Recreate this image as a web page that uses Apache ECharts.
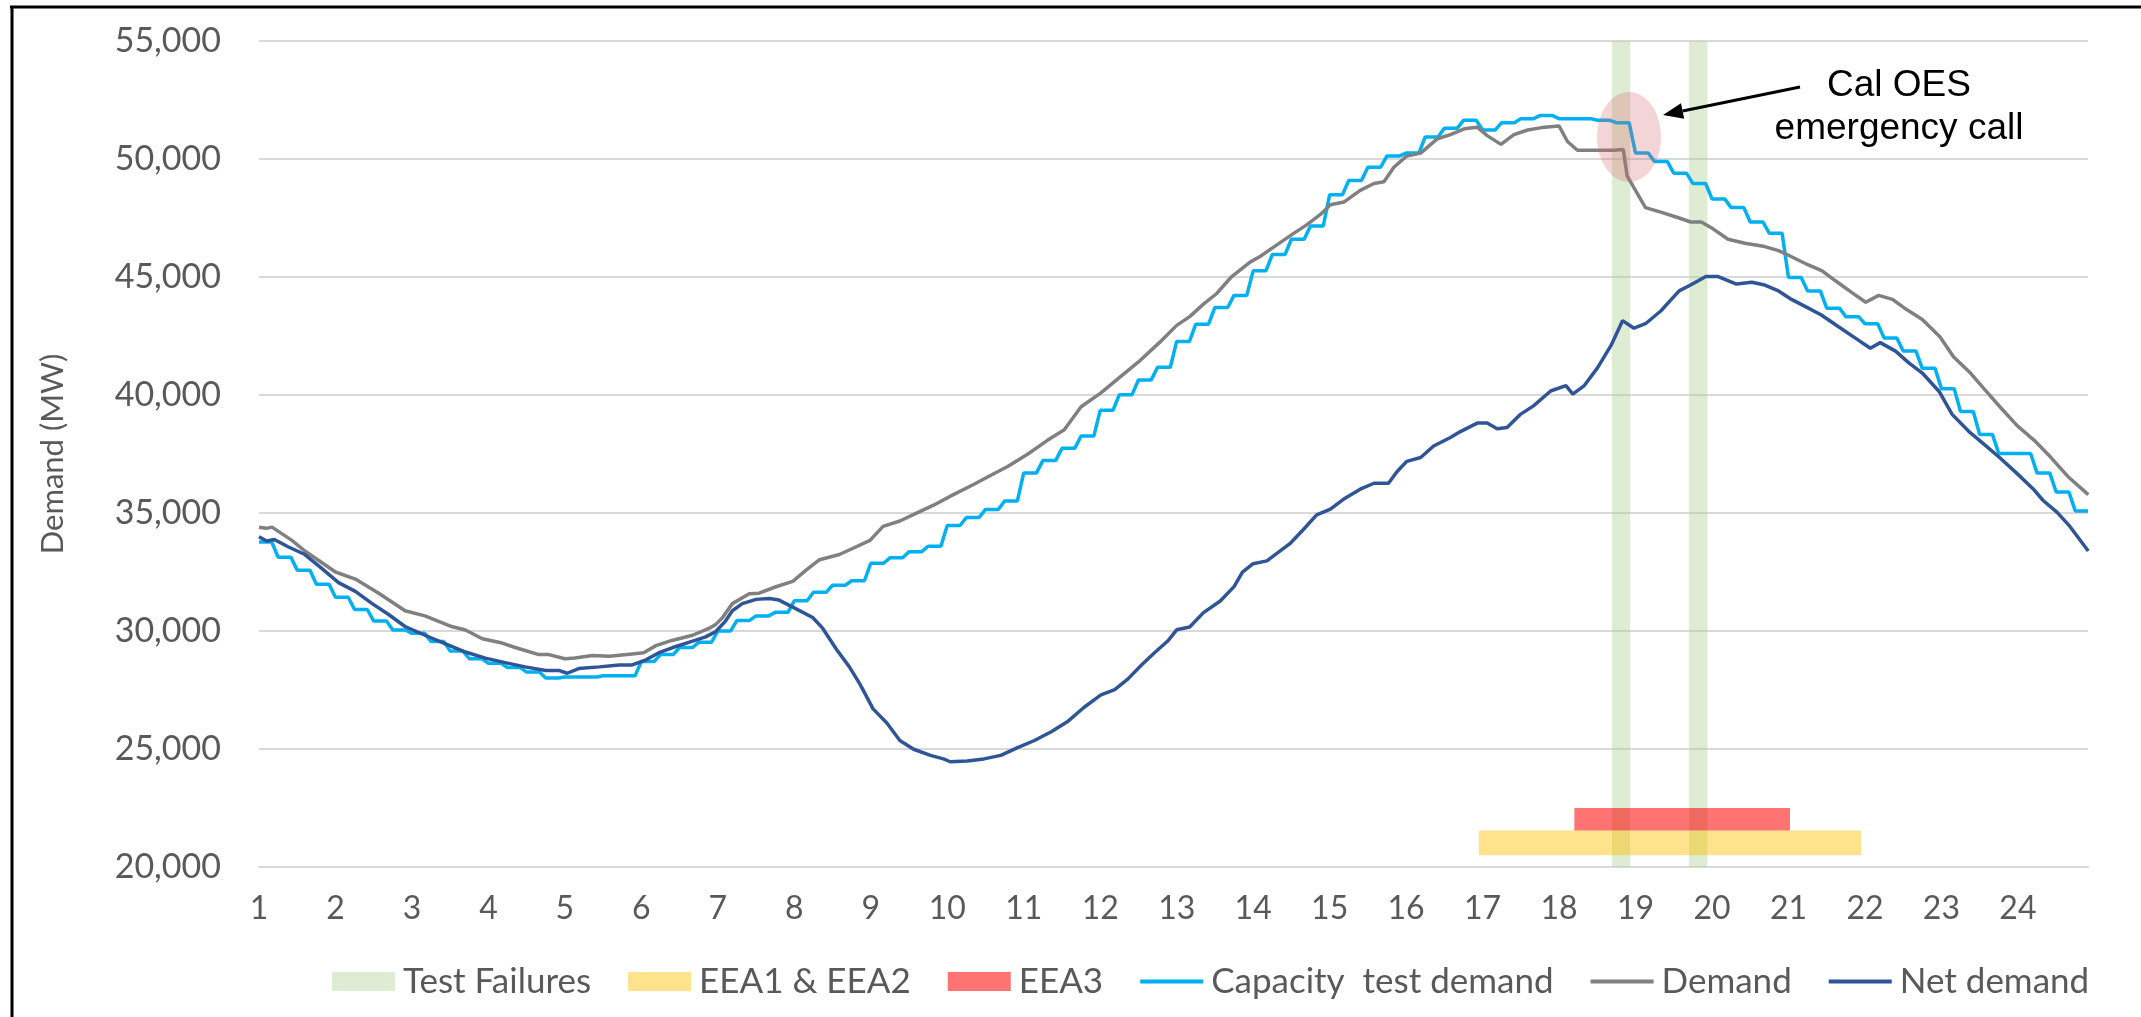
<!DOCTYPE html>
<html><head><meta charset="utf-8">
<script src="https://cdn.jsdelivr.net/npm/echarts@6/dist/echarts.min.js"></script>
<style>html,body{margin:0;padding:0;background:#fff;}#c{width:2141px;height:1017px;}</style>
</head><body><div id="c"></div>
<script>
// ---- data (hours on x, MW on y) ----
const hourLabels = ['1','2','3','4','5','6','7','8','9','10','11','12','13','14','15','16','17','18','19','20','21','22','23','24'];
const yTicks = [20000, 25000, 30000, 35000, 40000, 45000, 50000, 55000];
// capacity test demand: one value per 15-minute block starting at hour 1
const capacityQuarterHour = [
 33770,33130,32575,31980,31430,30910,30420,30045,
 29900,29550,29150,28825,28630,28450,28260,28010,
 28050,28050,28100,28100,28710,29000,29300,29520,
 30000,30450,30640,30790,31280,31640,31940,32130,
 32870,33100,33360,33590,34470,34810,35150,35510,
 36700,37220,37740,38260,39350,40015,40640,41175,
 42270,43000,43710,44220,45260,45950,46600,47160,
 48480,49090,49650,50130,50250,50935,51300,51640,
 51230,51540,51710,51840,51710,51710,51640,51540,
 50250,49890,49400,48960,48310,47940,47330,46850,
 44980,44410,43680,43320,43020,42420,41860,41130,
 40270,39300,38330,37520,37520,36700,35890,35090];
const demand = [
 [1.0,34400],[1.1,34350],[1.17,34400],[1.43,33840],[1.6,33390],[2.0,32500],[2.26,32200],[2.56,31610],
 [2.91,30860],[3.17,30640],[3.52,30190],[3.7,30045],[3.92,29670],[4.18,29490],[4.35,29300],[4.66,29000],
 [4.79,29000],[5.0,28825],[5.13,28855],[5.36,28960],[5.58,28930],[5.88,29030],[6.03,29080],[6.19,29380],
 [6.4,29600],[6.67,29820],[6.89,30120],[6.97,30270],[7.06,30565],[7.19,31160],[7.41,31580],[7.54,31600],
 [7.76,31875],[7.98,32100],[8.15,32570],[8.33,33020],[8.59,33240],[8.81,33570],[8.99,33840],[9.16,34435],
 [9.38,34660],[9.64,35060],[9.82,35330],[10.08,35780],[10.35,36220],[10.57,36600],[10.79,36970],[11.05,37490],
 [11.31,38080],[11.53,38530],[11.75,39500],[12.01,40090],[12.23,40680],[12.5,41400],[12.78,42240],[13.0,42950],
 [13.17,43320],[13.35,43850],[13.52,44290],[13.72,45020],[13.96,45630],[14.09,45870],[14.31,46360],[14.53,46850],
 [14.7,47210],[14.88,47650],[15.01,48060],[15.19,48180],[15.4,48670],[15.58,48960],[15.71,49040],[15.84,49650],
 [16.01,50130],[16.19,50250],[16.41,50860],[16.58,51030],[16.76,51280],[16.93,51350],[17.06,50990],[17.24,50620],
 [17.41,51030],[17.59,51230],[17.81,51350],[18.0,51400],[18.11,50740],[18.24,50370],[18.45,50370],[18.72,50370],
 [18.84,50400],[18.89,49280],[19.13,47940],[19.33,47750],[19.57,47500],[19.72,47330],[19.86,47330],[19.99,47090],
 [20.21,46600],[20.43,46430],[20.69,46290],[20.87,46120],[21.0,45920],[21.26,45510],[21.44,45260],[21.61,44850],
 [21.83,44340],[22.01,43930],[22.18,44220],[22.36,44050],[22.54,43630],[22.75,43200],[22.98,42470],[23.16,41610],
 [23.38,40930],[23.55,40290],[23.77,39480],[23.99,38700],[24.21,38090],[24.43,37360],[24.65,36560],[24.92,35780]];
const netDemand = [
 [1.0,33990],[1.1,33810],[1.2,33880],[1.38,33570],[1.6,33240],[1.82,32650],[2.04,32050],[2.26,31680],
 [2.48,31160],[2.69,30710],[2.91,30190],[3.17,29820],[3.44,29450],[3.7,29110],[3.96,28850],[4.22,28660],
 [4.48,28480],[4.75,28330],[4.92,28330],[5.03,28210],[5.18,28410],[5.45,28480],[5.71,28560],[5.88,28560],
 [6.06,28780],[6.23,29080],[6.41,29300],[6.62,29520],[6.84,29750],[6.97,29970],[7.1,30420],[7.19,30860],
 [7.32,31160],[7.5,31340],[7.67,31380],[7.8,31310],[7.98,31010],[8.24,30570],[8.37,30120],[8.55,29230],
 [8.72,28480],[8.86,27740],[9.03,26700],[9.21,26100],[9.38,25360],[9.56,24990],[9.78,24730],[9.95,24580],
 [10.04,24460],[10.26,24490],[10.48,24580],[10.7,24730],[10.92,25060],[11.14,25360],[11.36,25730],[11.58,26180],
 [11.79,26770],[12.01,27290],[12.19,27520],[12.36,27960],[12.54,28560],[12.71,29080],[12.89,29600],[13.0,30050],
 [13.17,30170],[13.35,30780],[13.57,31270],[13.75,31880],[13.86,32490],[14.0,32850],[14.18,32970],[14.31,33290],
 [14.48,33700],[14.66,34310],[14.83,34920],[15.01,35160],[15.18,35580],[15.4,36010],[15.58,36260],[15.77,36260],
 [15.88,36750],[16.01,37190],[16.19,37350],[16.36,37840],[16.58,38200],[16.71,38450],[16.93,38810],[17.06,38810],
 [17.19,38570],[17.32,38620],[17.5,39190],[17.67,39550],[17.89,40170],[18.09,40400],[18.18,40040],[18.33,40400],
 [18.5,41140],[18.68,42100],[18.83,43150],[18.98,42830],[19.13,43020],[19.33,43560],[19.57,44410],[19.72,44660],
 [19.92,45020],[20.08,45020],[20.32,44700],[20.52,44780],[20.69,44660],[20.87,44410],[21.04,44050],[21.26,43680],
 [21.43,43390],[21.65,42900],[21.87,42420],[22.07,41980],[22.2,42220],[22.4,41860],[22.57,41370],[22.75,40930],
 [22.97,40150],[23.14,39180],[23.36,38450],[23.54,37960],[23.76,37350],[23.98,36700],[24.2,36020],[24.33,35530],
 [24.51,35040],[24.68,34430],[24.92,33390]];
// shaded periods: [startHour, endHour, bottomMW, topMW]
const testFailures = [[18.69,18.93,20000,55000],[19.70,19.94,20000,55000]];
const eea12 = [[16.95,21.95,20500,21550]];
const eea3 = [[18.20,21.02,21550,22500]];

// ---- build ----
const FIRST_HOUR = 1, STEP = 1/12; // 5-minute slots
const capacityPoints = [];
capacityQuarterHour.forEach((v, k) => {
  const t = FIRST_HOUR + k * 0.25;
  for (let j = 0; j < 3; j++) capacityPoints.push([t + j * STEP, v]);
});
const X_MAX = FIRST_HOUR + 287 * STEP;

function rectItem(params, api) {
  const p0 = api.coord([api.value(0), api.value(3)]);
  const p1 = api.coord([api.value(1), api.value(2)]);
  return {type: 'rect', shape: {x: p0[0], y: p0[1], width: p1[0] - p0[0], height: p1[1] - p0[1]},
          style: {fill: api.visual('color')}};
}
const GRAY = '#595959';
const LINE_ICON = 'path://M0,0h64v4h-64z';
const chart = echarts.init(document.getElementById('c'), null, {renderer: 'canvas'});
const tip = [1663, 115], tail = [1800, 87];
const dx = tip[0]-tail[0], dy = tip[1]-tail[1], L = Math.hypot(dx, dy), ux = dx/L, uy = dy/L;
const hl = 20, hw = 8, bx = tip[0]-ux*hl, by = tip[1]-uy*hl;
chart.setOption({
  animation: false,
  textStyle: {fontFamily: 'Lato'},
  grid: {left: 259, right: 53, top: 41, bottom: 150},
  xAxis: {
    type: 'value', min: FIRST_HOUR, max: X_MAX, interval: 1,
    axisLine: {show: true, lineStyle: {color: '#D9D9D9', width: 2}},
    axisTick: {show: false}, splitLine: {show: false},
    axisLabel: {color: GRAY, fontSize: 32, margin: 26,
      formatter: v => Number.isInteger(v) ? hourLabels[v - 1] : ''}
  },
  yAxis: {
    type: 'value', min: yTicks[0], max: yTicks[yTicks.length - 1], interval: 5000,
    name: 'Demand (MW)', nameLocation: 'middle', nameGap: 191,
    nameTextStyle: {color: GRAY, fontSize: 31},
    axisLine: {show: false}, axisTick: {show: false},
    splitLine: {lineStyle: {color: '#D9D9D9', width: 2}},
    axisLabel: {color: GRAY, fontSize: 34, margin: 38,
      formatter: v => v.toLocaleString('en-US')}
  },
  legend: {
    left: 327, top: 959, itemWidth: 63, itemHeight: 19, itemGap: 37,
    textStyle: {color: GRAY, fontSize: 35, padding: [0, 0, 0, 3]},
    data: [{name: 'Test Failures', icon: 'rect'}, {name: 'EEA1 & EEA2', icon: 'rect'}, {name: 'EEA3', icon: 'rect'},
           {name: 'Capacity  test demand', icon: LINE_ICON}, {name: 'Demand', icon: LINE_ICON},
           {name: 'Net demand', icon: LINE_ICON}]
  },
  series: [
    {name: 'Test Failures', type: 'custom', renderItem: rectItem, data: testFailures,
     encode: {x: [0, 1], y: [2, 3]}, itemStyle: {color: 'rgba(169,208,142,0.4)'}},
    {name: 'EEA1 & EEA2', type: 'custom', renderItem: rectItem, data: eea12,
     encode: {x: [0, 1], y: [2, 3]}, itemStyle: {color: 'rgba(255,192,0,0.45)'}},
    {name: 'EEA3', type: 'custom', renderItem: rectItem, data: eea3,
     encode: {x: [0, 1], y: [2, 3]}, itemStyle: {color: 'rgba(255,0,0,0.55)'}},
    {name: 'Capacity  test demand', type: 'line', data: capacityPoints, symbol: 'none',
     lineStyle: {color: '#00B0F0', width: 3.5}, itemStyle: {color: '#00B0F0'}},
    {name: 'Demand', type: 'line', data: demand, symbol: 'none',
     lineStyle: {color: '#808080', width: 3.5}, itemStyle: {color: '#808080'}},
    {name: 'Net demand', type: 'line', data: netDemand, symbol: 'none',
     lineStyle: {color: '#2F5597', width: 3.5}, itemStyle: {color: '#2F5597'}}
  ],
  graphic: [
    {type: 'ellipse', z: 100, shape: {cx: 1629, cy: 137, rx: 32, ry: 45}, style: {fill: 'rgba(215,105,110,0.28)'}},
    {type: 'line', z: 100, shape: {x1: tail[0], y1: tail[1], x2: bx, y2: by}, style: {stroke: '#000', lineWidth: 3}},
    {type: 'polygon', z: 100, shape: {points: [tip, [bx - uy*hw, by + ux*hw], [bx + uy*hw, by - ux*hw]]}, style: {fill: '#000'}},
    {type: 'text', z: 100, style: {text: 'Cal OES', x: 1899, y: 86, font: '37px "Liberation Sans"', fill: '#000', textAlign: 'center', textVerticalAlign: 'middle'}},
    {type: 'text', z: 100, style: {text: 'emergency call', x: 1899, y: 129, font: '37px "Liberation Sans"', fill: '#000', textAlign: 'center', textVerticalAlign: 'middle'}},
    {type: 'line', z: 100, shape: {x1: 10, y1: 7, x2: 2141, y2: 7}, style: {stroke: '#000', lineWidth: 3}},
    {type: 'line', z: 100, shape: {x1: 12, y1: 6, x2: 12, y2: 1017}, style: {stroke: '#000', lineWidth: 3}}
  ]
});
</script></body></html>
